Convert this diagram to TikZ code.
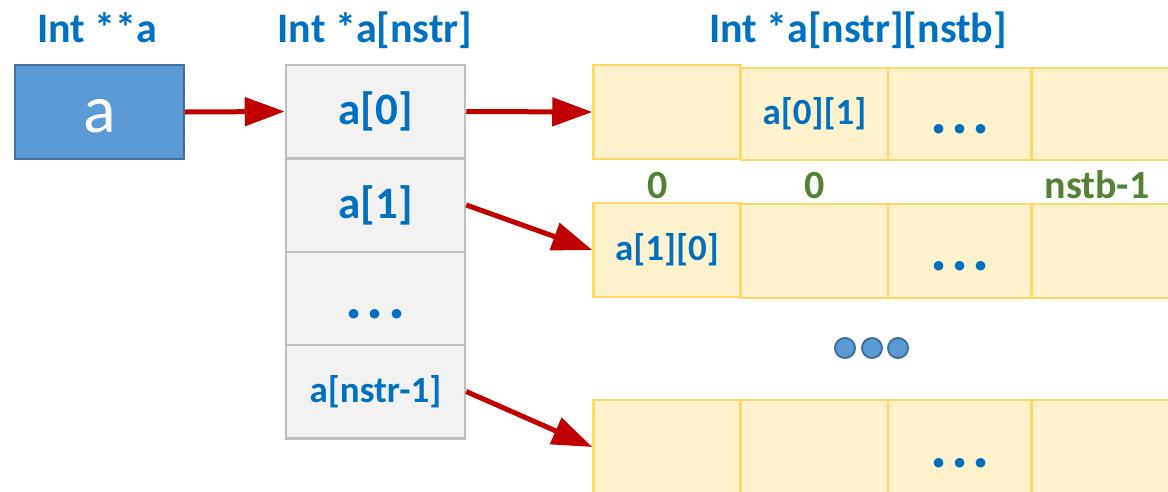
\documentclass[tikz,border=0pt]{standalone}
\usepackage{fontspec}
\setmainfont{Carlito}
\usetikzlibrary{arrows.meta}
\definecolor{hdrblue}{HTML}{0070C0}
\definecolor{boxfill}{HTML}{5B9BD5}
\definecolor{boxline}{HTML}{41719C}
\definecolor{gfill}{HTML}{F2F2F2}
\definecolor{gline}{HTML}{BFBFBF}
\definecolor{yfill}{HTML}{FFF2CC}
\definecolor{yline}{HTML}{FFD966}
\definecolor{arrred}{HTML}{C00000}
\definecolor{lblgreen}{HTML}{548235}
\newcommand{\myfs}[1]{\fontsize{#1}{#1}\selectfont}
\newcommand{\mydots}{.\kern4pt.\kern4pt.}
\begin{document}
\begin{tikzpicture}[x=1pt,y=-1pt,
 hdr/.style={text=hdrblue, font=\bfseries\myfs{42}, anchor=base, inner sep=0},
 ptrbox/.style={fill=boxfill, draw=boxline, line width=2pt, minimum width=169pt, minimum height=94pt, inner sep=0},
 gcell/.style={fill=gfill, draw=gline, line width=2.5pt, minimum width=179pt, minimum height=93.5pt, inner sep=0, text=hdrblue, font=\bfseries\myfs{45}},
 ycell/.style={fill=yfill, draw=yline, line width=2.5pt, minimum width=147pt, minimum height=93pt, inner sep=0, text=hdrblue, font=\bfseries\myfs{37}},
 dotstext/.style={text=hdrblue, font=\bfseries\myfs{64}, anchor=base, inner sep=0},
 idx/.style={text=lblgreen, font=\bfseries\myfs{40}, anchor=base, inner sep=0},
 ptr/.style={draw=arrred, line width=5pt, -{Triangle[length=40pt,width=28pt]}},
 ball/.style={circle, fill=boxfill, draw=boxline, line width=2pt, minimum size=20pt, inner sep=0}
]
\useasboundingbox (0,0) rectangle (1168,491);
\clip (0,0) rectangle (1168,491);
% headers
\node[hdr] (h1) at (97,42) {Int **a};
\node[hdr] (h2) at (375,42) {Int *a[nstr]};
\node[hdr] (h3) at (858,42) {Int *a[nstr][nstb]};
% pointer box
\node[ptrbox] (p) at (99.5,112) {};
\node[text=white, font=\myfs{68}, anchor=base, inner sep=0] (pa) at (99.5,132) {a};
% gray column
\node[gcell] (g0) at (375.5,111.5) {a[0]};
\node[gcell] (g1) at (375.5,205) {a[1]};
\node[gcell] (g2) at (375.5,298.5) {};
\node[gcell] (g3) at (375.5,391.5) {\myfs{37}a[nstr-1]};
\node[dotstext] (g2d) at (375.5,318) {\mydots};
% yellow row 1
\node[ycell, minimum height=94pt] (y00) at (667,112) {};
\node[ycell, minimum height=92pt] (y01) at (814.5,114) {a[0][1]};
\node[ycell, minimum height=92pt, minimum width=144pt] (y02) at (960,114) {};
\node[ycell, minimum height=92pt] (y03) at (1105,114) {};
\node[dotstext] (y02d) at (960,133) {\mydots};
% index labels
\node[idx] (i0) at (658,198) {0};
\node[idx] (i1) at (815,198) {0};
\node[idx] (i2) at (1097,198) {nstb-1};
% yellow row 2
\node[ycell, minimum height=94pt] (y10) at (667,250) {a[1][0]};
\node[ycell, minimum height=94pt] (y11) at (814.5,251) {};
\node[ycell, minimum height=94pt, minimum width=144pt] (y12) at (960,251) {};
\node[ycell, minimum height=94pt] (y13) at (1105,251) {};
\node[dotstext] (y12d) at (960,270) {\mydots};
% balls
\node[ball] (b1) at (845,348) {};
\node[ball] (b2) at (872,348) {};
\node[ball] (b3) at (898,348) {};
% yellow row 3
\node[ycell, minimum height=94pt] (y20) at (667,447) {};
\node[ycell, minimum height=94pt] (y21) at (814.5,447) {};
\node[ycell, minimum height=94pt, minimum width=144pt] (y22) at (960,447) {};
\node[ycell, minimum height=94pt] (y23) at (1105,447) {};
\node[dotstext] (y22d) at (960,467) {\mydots};
% arrows
\draw[ptr] (p.east) -- (g0.west);
\draw[ptr] (g0.east) -- (y00.west);
\draw[ptr] (g1.east) -- (y10.west);
\draw[ptr] (g3.east) -- (y20.west);
\end{tikzpicture}
\end{document}
